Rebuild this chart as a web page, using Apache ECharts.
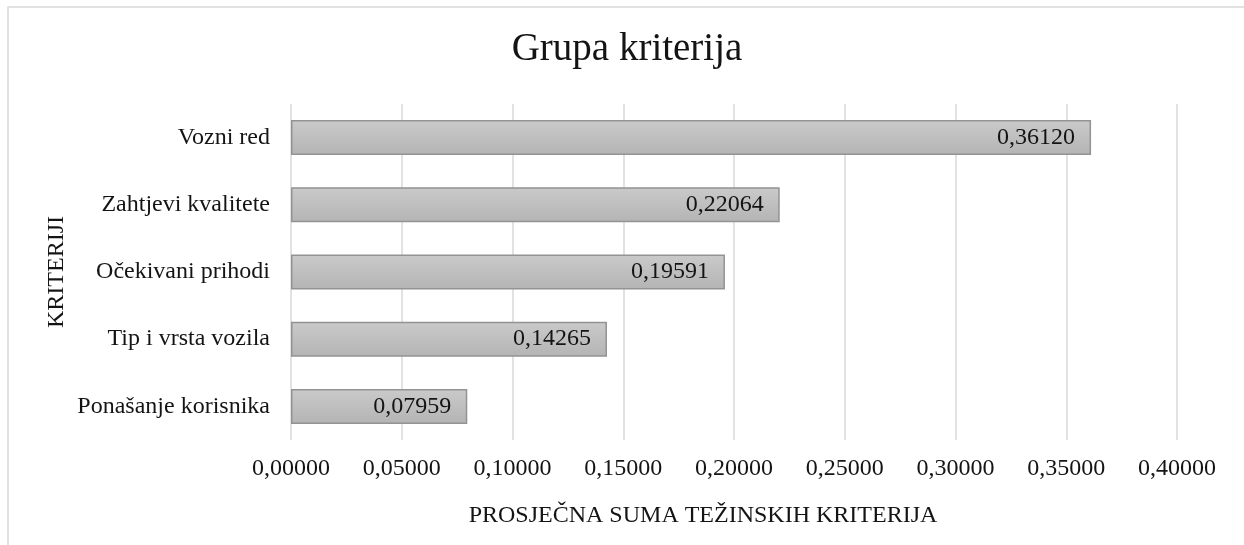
<!DOCTYPE html>
<html>
<head>
<meta charset="utf-8">
<script src="https://cdn.jsdelivr.net/npm/echarts@6/dist/echarts.min.js"></script>
<style>
  html, body { margin: 0; padding: 0; background: #ffffff; }
  #chart { width: 1244px; height: 545px; }
</style>
</head>
<body>
<div id="chart"></div>
<script>
// Criteria, top to bottom, with their average weighted sums
const categories = ['Vozni red', 'Zahtjevi kvalitete', 'Očekivani prihodi', 'Tip i vrsta vozila', 'Ponašanje korisnika'];
const values = [0.36120, 0.22064, 0.19591, 0.14265, 0.07959];
const axisMin = 0;
const axisMax = 0.4;
const axisStep = 0.05;

const titleText = 'Grupa kriterija';
const xAxisTitle = 'PROSJEČNA SUMA TEŽINSKIH KRITERIJA';
const yAxisTitle = 'KRITERIJI';

const serif = "'Liberation Serif', 'Times New Roman', 'DejaVu Serif', serif";
const fmt = v => Number(v).toFixed(5).replace('.', ',');

const chart = echarts.init(document.getElementById('chart'), null, { renderer: 'canvas' });

chart.setOption({
  backgroundColor: '#ffffff',
  animation: false,
  grid: { left: 291, right: 67, top: 104, bottom: 105, containLabel: false },
  xAxis: {
    type: 'value',
    min: axisMin,
    max: axisMax,
    interval: axisStep,
    axisLine: { show: false },
    axisTick: { show: false },
    splitLine: { show: true, lineStyle: { color: '#d9d9d9', width: 1.5 } },
    axisLabel: {
      margin: 17,
      color: '#141414',
      fontFamily: serif,
      fontSize: 24,
      formatter: fmt
    }
  },
  yAxis: {
    type: 'category',
    data: categories,
    inverse: true,
    axisLine: { show: false },
    axisTick: { show: false },
    splitLine: { show: false },
    axisLabel: {
      margin: 21,
      color: '#141414',
      fontFamily: serif,
      fontSize: 24
    }
  },
  series: [{
    type: 'bar',
    data: values,
    barWidth: 35,
    itemStyle: {
      color: new echarts.graphic.LinearGradient(0, 0, 0, 1, [
        { offset: 0, color: '#cacaca' },
        { offset: 1, color: '#b4b4b4' }
      ]),
      borderColor: '#939393',
      borderWidth: 1.5
    },
    label: {
      show: true,
      position: 'insideRight',
      distance: 16,
      color: '#141414',
      fontFamily: serif,
      fontSize: 24,
      formatter: p => fmt(p.value)
    }
  }],
  graphic: [
    {
      type: 'rect',
      silent: true,
      shape: { x: 8, y: 7, width: 1400, height: 700 },
      style: { fill: 'none', stroke: '#d9d9d9', lineWidth: 1.5 }
    },
    {
      type: 'text',
      x: 627, y: 50,
      style: {
        text: titleText,
        fontFamily: serif, fontSize: 39, fill: '#141414',
        align: 'center', verticalAlign: 'middle'
      }
    },
    {
      type: 'text',
      x: 703, y: 516,
      style: {
        text: xAxisTitle,
        fontFamily: serif, fontSize: 24, fill: '#141414',
        align: 'center', verticalAlign: 'middle'
      }
    },
    {
      type: 'text',
      x: 57, y: 272,
      rotation: Math.PI / 2,
      style: {
        text: yAxisTitle,
        fontFamily: serif, fontSize: 24, fill: '#141414',
        align: 'center', verticalAlign: 'middle'
      }
    }
  ]
});
</script>
</body>
</html>
